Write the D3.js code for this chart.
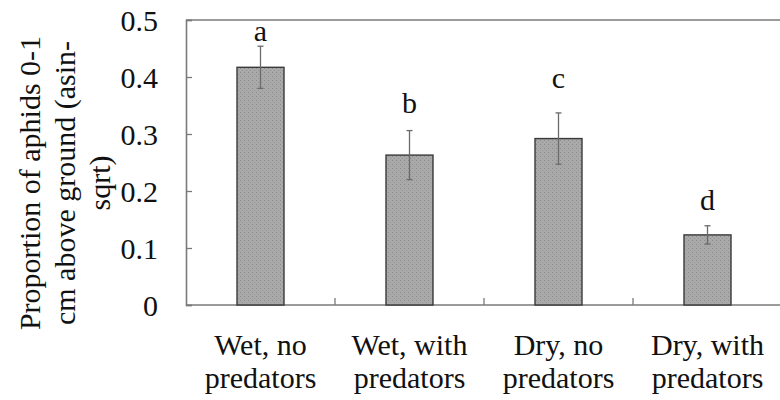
<!DOCTYPE html>
<html>
<head>
<meta charset="utf-8">
<script src="https://cdn.jsdelivr.net/npm/d3@7"></script>
<style>
  html, body { margin: 0; padding: 0; background: #fff; }
  svg text { font-family: "Liberation Serif", "DejaVu Serif", "Times New Roman", Times, serif; fill: #111; }
</style>
</head>
<body>
<svg id="chart" width="780" height="400"></svg>
<script>
// Treatments and their mean proportion (asin-sqrt transformed) with standard errors
const categories = ["Wet, no|predators", "Wet, with|predators", "Dry, no|predators", "Dry, with|predators"];
const means = [0.417, 0.263, 0.292, 0.123];
const errors = [0.037, 0.043, 0.045, 0.016];
const groupLetters = ["a", "b", "c", "d"];
const letterHeights = [0.463, 0.336, 0.380, 0.166];
const yTicks = [0, 0.1, 0.2, 0.3, 0.4, 0.5];
const yTitle = ["Proportion of aphids 0-1", "cm above ground (asin-", "sqrt)"];

const serif = "'Liberation Serif', 'DejaVu Serif', 'Times New Roman', Times, serif";

const svg = d3.select("#chart").attr("font-family", serif);
const margin = { left: 186, right: -2, top: 20, bottom: 95 };
const W = 780, H = 400;

const x = d3.scaleBand()
  .domain(categories)
  .range([margin.left, W - margin.right])
  .paddingInner(0).paddingOuter(0);

const y = d3.scaleLinear().domain([0, 0.5]).range([H - margin.bottom, margin.top]);

// dotted grey fill for the bars
const defs = svg.append("defs");
const pat = defs.append("pattern")
  .attr("id", "stipple").attr("patternUnits", "userSpaceOnUse")
  .attr("width", 4).attr("height", 4);
pat.append("rect").attr("width", 4).attr("height", 4).attr("fill", "#a9a9a9");
pat.append("rect").attr("x", 0).attr("y", 0).attr("width", 1).attr("height", 1).attr("fill", "#8c8c8c");
pat.append("rect").attr("x", 2).attr("y", 2).attr("width", 1).attr("height", 1).attr("fill", "#959595");

const frameColor = "#7a7a7a";

// top border of the plot area
svg.append("line")
  .attr("x1", margin.left).attr("x2", W)
  .attr("y1", y(0.5)).attr("y2", y(0.5))
  .attr("stroke", frameColor).attr("stroke-width", 1.6);

// y axis with inward ticks
const yAxis = svg.append("g")
  .attr("transform", `translate(${margin.left},0)`)
  .call(d3.axisLeft(y).tickValues(yTicks).tickSize(-6).tickPadding(28)
    .tickFormat(d => d === 0 ? "0" : d3.format(".1f")(d)));
yAxis.attr("font-family", serif).attr("font-size", 30);
yAxis.select(".domain").attr("stroke", frameColor).attr("stroke-width", 1.6);
yAxis.selectAll(".tick line").attr("stroke", frameColor).attr("stroke-width", 1.3);
yAxis.selectAll(".tick text")
  .attr("fill", "#111")
  .attr("dy", "0.34em");

// x axis: baseline with category separators
const xAxis = svg.append("g").attr("transform", `translate(0,${y(0)})`);
xAxis.append("line")
  .attr("x1", margin.left).attr("x2", W)
  .attr("stroke", frameColor).attr("stroke-width", 1.6);
xAxis.selectAll("line.sep")
  .data(categories.slice(1))
  .join("line").attr("class", "sep")
  .attr("x1", d => x(d)).attr("x2", d => x(d))
  .attr("y1", 0).attr("y2", -7)
  .attr("stroke", frameColor).attr("stroke-width", 1.3);

// category labels on two lines
const labels = svg.append("g").selectAll("text")
  .data(categories)
  .join("text")
  .attr("x", d => x(d) + x.bandwidth() / 2)
  .attr("y", 355)
  .attr("text-anchor", "middle")
  .attr("font-size", 30);
labels.each(function (d) {
  const parts = d.split("|");
  const t = d3.select(this);
  parts.forEach((p, i) => {
    t.append("tspan")
      .attr("x", x(d) + x.bandwidth() / 2)
      .attr("dy", i === 0 ? 0 : 33)
      .text(p);
  });
});

// bars
const barW = 47;
const data = categories.map((c, i) => ({ c, m: means[i], e: errors[i], l: groupLetters[i], lh: letterHeights[i] }));
const cx = d => x(d.c) + x.bandwidth() / 2;

svg.append("g").selectAll("rect")
  .data(data)
  .join("rect")
  .attr("x", d => cx(d) - barW / 2)
  .attr("y", d => y(d.m))
  .attr("width", barW)
  .attr("height", d => y(0) - y(d.m))
  .attr("fill", "url(#stipple)")
  .attr("stroke", "#3a3a3a")
  .attr("stroke-width", 1.4);

// error bars
const eb = svg.append("g").attr("stroke", "#6a6a6a").attr("stroke-width", 1.3);
eb.selectAll("line.v").data(data).join("line").attr("class", "v")
  .attr("x1", cx).attr("x2", cx)
  .attr("y1", d => y(d.m + d.e)).attr("y2", d => y(d.m - d.e));
eb.selectAll("line.top").data(data).join("line").attr("class", "top")
  .attr("x1", d => cx(d) - 3).attr("x2", d => cx(d) + 3)
  .attr("y1", d => y(d.m + d.e)).attr("y2", d => y(d.m + d.e));
eb.selectAll("line.bot").data(data).join("line").attr("class", "bot")
  .attr("x1", d => cx(d) - 3).attr("x2", d => cx(d) + 3)
  .attr("y1", d => y(d.m - d.e)).attr("y2", d => y(d.m - d.e));

// significance letters
svg.append("g").selectAll("text")
  .data(data)
  .join("text")
  .attr("x", cx)
  .attr("y", d => y(d.lh))
  .attr("text-anchor", "middle")
  .attr("font-size", 30)
  .text(d => d.l);

// rotated y-axis title
const title = svg.append("text")
  .attr("transform", "translate(0,183) rotate(-90)")
  .attr("text-anchor", "middle")
  .attr("font-size", 30);
yTitle.forEach((line, i) => {
  title.append("tspan")
    .attr("x", 0)
    .attr("y", 40 + i * 35)
    .text(line);
});
</script>
</body>
</html>
